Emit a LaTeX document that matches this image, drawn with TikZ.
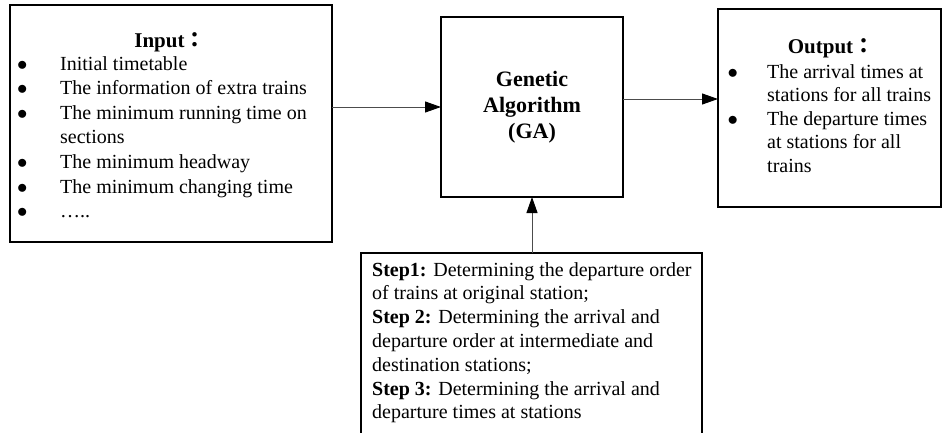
\documentclass[tikz,border=0pt]{standalone}
\usepackage{fontspec}
\setmainfont{Liberation Serif}
\newfontfamily\cjk{Noto Sans CJK JP}
\usetikzlibrary{arrows.meta}
\def\fcolon{{\cjk ：}}
\def\dotitem{$\bullet$}
\tikzset{
	box/.style={draw=black, line width=1.2pt, inner sep=0pt, outer sep=0pt},
	gabox/.style={box, line width=2.8pt, align=center, font=\fontsize{22}{26}\selectfont\bfseries},
	link/.style={draw=black!70, line width=1pt, -{Triangle[length=16pt,width=11pt,color=black]}},
	title/.style={inner sep=0pt, anchor=base, font=\fontsize{21}{24}\selectfont\bfseries},
	txt/.style={inner sep=0pt, anchor=base west}
}

\begin{document}
\begin{tikzpicture}[x=1pt,y=-1pt]
			%%%%% START %%%%%
			\def\bulletw{43pt}
			\def\bulletwo{39.5pt}
			\useasboundingbox (0,0) rectangle (943,432);

			% boxes
			\node[box, minimum width=322, minimum height=237] (input) at (171,123.5) {};
			\node[gabox, minimum width=182, minimum height=180] (ga) at (532,107) {Genetic\\Algorithm\\(GA)};
			\node[box, minimum width=223, minimum height=198] (output) at (829.5,108) {};
			\node[box, minimum width=341, minimum height=183] (steps) at (531.5,344.5) {};

			% input text
			\node[title] (inputtitle) at (170,47) {Input\fcolon};
			\node[txt, font=\fontsize{20}{24.6}\selectfont] (inputlist) at (17,70) {%
				\begin{tabular}[t]{@{}p{\bulletw}@{}l@{}}
				\dotitem & Initial timetable\\
				\dotitem & The information of extra trains\\
				\dotitem & The minimum running time on\\
				         & sections\\
				\dotitem & The minimum headway\\
				\dotitem & The minimum changing time\\
				\dotitem & …..
				\end{tabular}};

			% output text
			\node[title] (outputtitle) at (831,53) {Output\fcolon};
			\node[txt, font=\fontsize{20}{23.6}\selectfont] (outputlist) at (727.5,78) {%
				\begin{tabular}[t]{@{}p{\bulletwo}@{}l@{}}
				\dotitem & The arrival times at\\
				         & stations for all trains\\
				\dotitem & The departure times\\
				         & at stations for all\\
				         & trains
				\end{tabular}};

			% steps text
			\node[txt, font=\fontsize{20}{23.8}\selectfont] (stepslist) at (372,276) {%
				\begin{tabular}[t]{@{}l@{}}
				\textbf{Step1:} Determining the departure order\\
				of trains at original station;\\
				\textbf{Step 2:} Determining the arrival and\\
				departure order at intermediate and\\
				destination stations;\\
				\textbf{Step 3:} Determining the arrival and\\
				departure times at stations
				\end{tabular}};

			% connectors
			\coordinate (outin) at ([yshift=9pt]output.west);
			\draw[link] (input.east |- ga.west) -- (ga.west);
			\draw[link] (ga.east |- outin) -- (outin);
			\draw[link] (steps.north -| ga.south) -- (ga.south);
			%%%%% END %%%%%
\end{tikzpicture}
\end{document}
